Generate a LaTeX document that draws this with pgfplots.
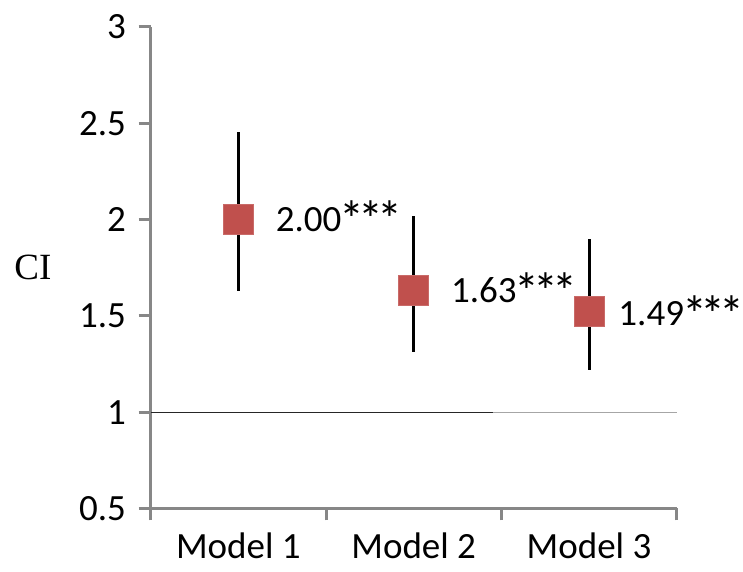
\documentclass[border=0pt]{standalone}
\usepackage{pgfplots}
\pgfplotsset{compat=1.18}
\usepackage{pgfplotstable}
\usepackage{fontspec}
\setmainfont{Carlito}
\newfontfamily\cifont{Liberation Serif}
\definecolor{mred}{HTML}{C0504D}
\definecolor{axgray}{HTML}{878787}
\newcommand{\st}{\raisebox{-3.2pt}{\scalebox{1.35}[1.4]{*}}}
\newcommand{\stars}{\kern-1pt\st\kern-3pt\st\kern-3pt\st}
\pgfplotstableread{
x y ep em
1 2.00 0.455 0.37
2 1.63 0.39 0.317
3 1.52 0.38 0.30
}\cidata
\begin{document}
\fontsize{18.5}{22}\selectfont
\begin{tikzpicture}
\begin{axis}[
  scale only axis,
  width=263pt, height=240.7pt,
  xmin=0.5, xmax=3.5, ymin=0.5, ymax=3,
  axis x line=bottom, axis y line=left,
  axis line style={-, draw=axgray, line width=1.5pt},
  tick align=outside,
  major tick length=6pt, minor tick length=6pt,
  tick style={draw=axgray, line width=1.5pt},
  xtick={1,2,3}, xticklabels={Model 1,Model 2,Model 3},
  major x tick style={draw=none},
  minor xtick={0.5,1.5,2.5,3.5},
  ytick={0.5,1,1.5,2,2.5,3},
  /pgf/number format/assume math mode=true,
  ticklabel style={font=\fontsize{18.5}{22}\selectfont, text=black},
  ylabel={\cifont CI},
  ylabel style={at={(axis description cs:-0.224,0.5)}, rotate=-90, anchor=center, font=\fontsize{18.5}{22}\selectfont},
  clip=false,
]
\addplot[black!85, line width=0.6pt] coordinates {(0.5,1) (2.45,1)};
\addplot[gray!70, line width=0.6pt] coordinates {(2.45,1) (3.5,1)};
\addplot[only marks, mark=square*, mark size=7.5pt,
  mark options={fill=mred, draw=mred!85!white, line width=0.5pt},
  error bars/.cd, y dir=both, y explicit,
  error bar style={black, line width=1.5pt}, error mark=none]
  table[x=x, y=y, y error plus=ep, y error minus=em]{\cidata};
\node[anchor=west, inner sep=0pt] at ([xshift=18.5pt]axis cs:1,2.00) {2.00\stars};
\node[anchor=west, inner sep=0pt] at ([xshift=18.5pt]axis cs:2,1.63) {1.63\stars};
\node[anchor=west, inner sep=0pt] at ([xshift=14.5pt]axis cs:3,1.51) {1.49\stars};
\coordinate (bl) at ([xshift=-75.35pt, yshift=-31.35pt]rel axis cs:0,0);
\coordinate (tr) at ([xshift=33.15pt, yshift=13.5pt]rel axis cs:1,1);
\end{axis}
\pgfresetboundingbox
\path[use as bounding box] (bl) rectangle (tr);
\end{tikzpicture}
\end{document}
